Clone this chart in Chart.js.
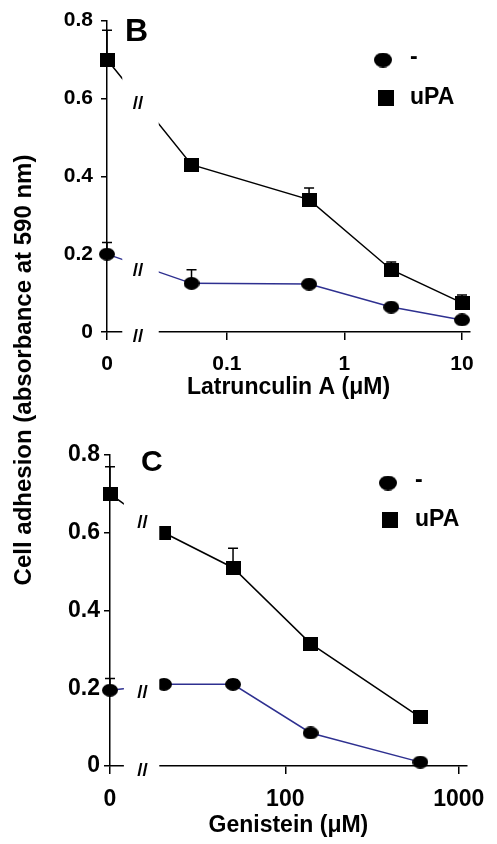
<!DOCTYPE html>
<html>
<head>
<meta charset="utf-8">
<script src="https://cdn.jsdelivr.net/npm/chart.js@4"></script>
<style>
  body { margin: 0; background: #fff; }
  #wrap { position: relative; width: 497px; height: 844px; overflow: hidden;
          font-family: Arial, "Liberation Sans", sans-serif; }
  .panel { position: absolute; left: 0; width: 497px; }
  #panelB { top: 0; height: 405px; }
  #panelC { top: 420px; height: 424px; }
  #ytitle { position: absolute; left: -227px; top: 356px; width: 500px; height: 28px;
            line-height: 28px; text-align: center; font-weight: bold; font-size: 24px;
            transform: rotate(-90deg); color: #000; }
</style>
</head>
<body>
<div id="wrap">
  <div class="panel" id="panelB"><canvas id="chartB"></canvas></div>
  <div class="panel" id="panelC"><canvas id="chartC"></canvas></div>
  <div id="ytitle">Cell adhesion (absorbance at 590 nm)</div>
</div>
<script>
// series names
const seriesLabels = ['-', 'uPA'];
const yTicks = [0, 0.2, 0.4, 0.6, 0.8];

// panel B: latrunculin A
const latConc = [0, 0.05, 0.5, 2.5, 10];
const latCtrl = [0.20, 0.125, 0.123, 0.064, 0.031];
const latCtrlErr = [0.03, 0.035, 0, 0, 0];
const latUpa = [0.70, 0.43, 0.34, 0.16, 0.075];
const latUpaErr = [0.075, 0, 0.03, 0.02, 0.02];
const latTicks = [0, 0.1, 1, 10];

// panel C: genistein
const genConc = [0, 20, 50, 140, 600];
const genCtrl = [0.195, 0.21, 0.21, 0.085, 0.01];
const genCtrlErr = [0.03, 0, 0.012, 0, 0];
const genUpa = [0.70, 0.60, 0.51, 0.315, 0.125];
const genUpaErr = [0.07, 0, 0.05, 0, 0];
const genTicks = [0, 100, 1000];

const FONT = 'Arial, "Liberation Sans", sans-serif';
const BLUE = '#2e3090';

function marker(shape, w, h) {
  const c = document.createElement('canvas');
  c.width = w; c.height = h;
  const g = c.getContext('2d');
  g.fillStyle = '#000';
  if (shape === 'circle') {
    g.beginPath();
    g.ellipse(w / 2, h / 2, w / 2, h / 2, 0, 0, Math.PI * 2);
    g.fill();
  } else {
    g.fillRect(0, 0, w, h);
  }
  return c;
}
const dotImg = marker('circle', 16, 13);
const sqImg = marker('rect', 15, 14);
const dotLeg = marker('circle', 18, 15);
const sqLeg = marker('rect', 16, 16);

// x position on a log axis, with 0 put left of the break
const toPos = (c, zero) => c === 0 ? zero : Math.log10(c);

const extras = {
  id: 'extras',
  beforeDatasetsDraw(chart) {
    const ctx = chart.ctx, ys = chart.scales.y;
    ctx.save();
    ctx.strokeStyle = '#000';
    ctx.lineWidth = 1.5;
    chart.data.datasets.forEach((ds, i) => {
      const pts = chart.getDatasetMeta(i).data;
      ds.errors.forEach((e, j) => {
        if (!e) return;
        const px = pts[j].x;
        const y0 = ys.getPixelForValue(ds.data[j].y);
        const y1 = ys.getPixelForValue(ds.data[j].y + e);
        ctx.beginPath();
        ctx.moveTo(px, y0); ctx.lineTo(px, y1);
        ctx.moveTo(px - 5, y1); ctx.lineTo(px + 5, y1);
        ctx.stroke();
      });
    });
    ctx.restore();
  },
  afterDatasetsDraw(chart, args, o) {
    const ctx = chart.ctx, xs = chart.scales.x, area = chart.chartArea;
    const x1 = xs.getPixelForValue(o.gapFrom);
    const x2 = xs.getPixelForValue(o.gapTo);
    const xm = xs.getPixelForValue(o.gapMark);
    ctx.save();
    // axis break
    ctx.fillStyle = '#fff';
    ctx.fillRect(x1, area.top - 10, x2 - x1, area.bottom - area.top + 12);
    ctx.fillStyle = '#000';
    ctx.font = 'bold 19px ' + FONT;
    ctx.textAlign = 'center';
    ctx.textBaseline = 'middle';
    chart.data.datasets.forEach((ds, i) => {
      const p = chart.getDatasetMeta(i).data;
      const t = (xm - p[0].x) / (p[1].x - p[0].x);
      ctx.fillText('//', xm, p[0].y + t * (p[1].y - p[0].y) + 6);
    });
    ctx.fillText('//', xm, area.bottom + 5);

    // legend
    const L = o.legend;
    ctx.font = 'bold 23px ' + FONT;
    ctx.textAlign = 'left';
    [dotLeg, sqLeg].forEach((img, i) => {
      ctx.drawImage(img, L.x[i] - img.width / 2, L.y[i] - img.height / 2);
      ctx.fillText(chart.data.datasets[i].label, L.textX, L.y[i] + (i === 0 ? -2 : 0));
    });

    // panel letter
    ctx.font = 'bold ' + o.letter.size + 'px ' + FONT;
    ctx.fillText(o.letter.text, o.letter.x, o.letter.y);
    ctx.restore();
  }
};

function makePanel(id, p) {
  const mk = (vals) => p.conc.map((c, i) => ({ x: toPos(c, p.zero), y: vals[i] }));
  return new Chart(document.getElementById(id), {
    type: 'line',
    data: {
      datasets: [
        { label: seriesLabels[0], data: mk(p.ctrl), errors: p.ctrlErr,
          borderColor: BLUE, borderWidth: 1.5, pointStyle: dotImg, clip: false, tension: 0 },
        { label: seriesLabels[1], data: mk(p.upa), errors: p.upaErr,
          borderColor: '#000', borderWidth: 1.5, pointStyle: sqImg, clip: false, tension: 0 }
      ]
    },
    options: {
      responsive: true,
      maintainAspectRatio: false,
      animation: false,
      events: [],
      layout: { padding: { top: p.padTop, right: 27, left: 0, bottom: 0 } },
      plugins: {
        legend: { display: false },
        tooltip: { enabled: false },
        extras: p.extras
      },
      scales: {
        x: {
          type: 'linear',
          min: p.min, max: p.max,
          afterBuildTicks: s => { s.ticks = p.ticks.map(t => ({ value: toPos(t, p.zero) })); },
          afterFit: s => { s.height = p.xHeight; },
          ticks: {
            color: '#000', padding: 12,
            font: { family: FONT, size: p.tickSize, weight: 'bold' },
            callback: (v, i) => String(p.ticks[i])
          },
          grid: { drawOnChartArea: false, drawTicks: true, tickLength: 8, color: '#000', lineWidth: 1.5 },
          border: { display: true, color: '#000', width: 1.5 },
          title: {
            display: true, text: p.xTitle, color: '#000',
            font: { family: FONT, size: 23, weight: 'bold' },
            padding: { top: 0, bottom: p.titlePad }
          }
        },
        y: {
          type: 'linear',
          min: 0, max: 0.8,
          afterBuildTicks: s => { s.ticks = yTicks.map(v => ({ value: v })); },
          afterFit: s => { s.width = p.yWidth; },
          ticks: {
            color: '#000', padding: p.yPad,
            font: { family: FONT, size: p.tickSize, weight: 'bold' },
            callback: v => v === 0 ? '0' : v.toFixed(1)
          },
          grid: { drawOnChartArea: false, drawTicks: true, tickLength: 6, color: '#000', lineWidth: 1.5 },
          border: { display: true, color: '#000', width: 1.5 }
        }
      }
    },
    plugins: [extras]
  });
}

makePanel('chartB', {
  conc: latConc, ctrl: latCtrl, ctrlErr: latCtrlErr, upa: latUpa, upaErr: latUpaErr,
  ticks: latTicks, zero: -2.02, min: -2.02, max: 1.068,
  xTitle: 'Latrunculin A (\u03bcM)', xHeight: 73, titlePad: 4, padTop: 19,
  yWidth: 107, yPad: 8, tickSize: 21,
  extras: {
    gapFrom: -1.89, gapTo: -1.58, gapMark: -1.757,
    legend: { x: [383, 386], y: [60, 98], textX: 410 },
    letter: { text: 'B', x: 125, y: 32, size: 32 }
  }
});

makePanel('chartC', {
  conc: genConc, ctrl: genCtrl, ctrlErr: genCtrlErr, upa: genUpa, upaErr: genUpaErr,
  ticks: genTicks, zero: 0.99, min: 0.99, max: 3.046,
  xTitle: 'Genistein (\u03bcM)', xHeight: 78, titlePad: 5, padTop: 35,
  yWidth: 110, yPad: 4, tickSize: 23,
  extras: {
    gapFrom: 1.07, gapTo: 1.274, gapMark: 1.177,
    legend: { x: [388, 390], y: [63, 100], textX: 415 },
    letter: { text: 'C', x: 141, y: 43, size: 30 }
  }
});
</script>
</body>
</html>
